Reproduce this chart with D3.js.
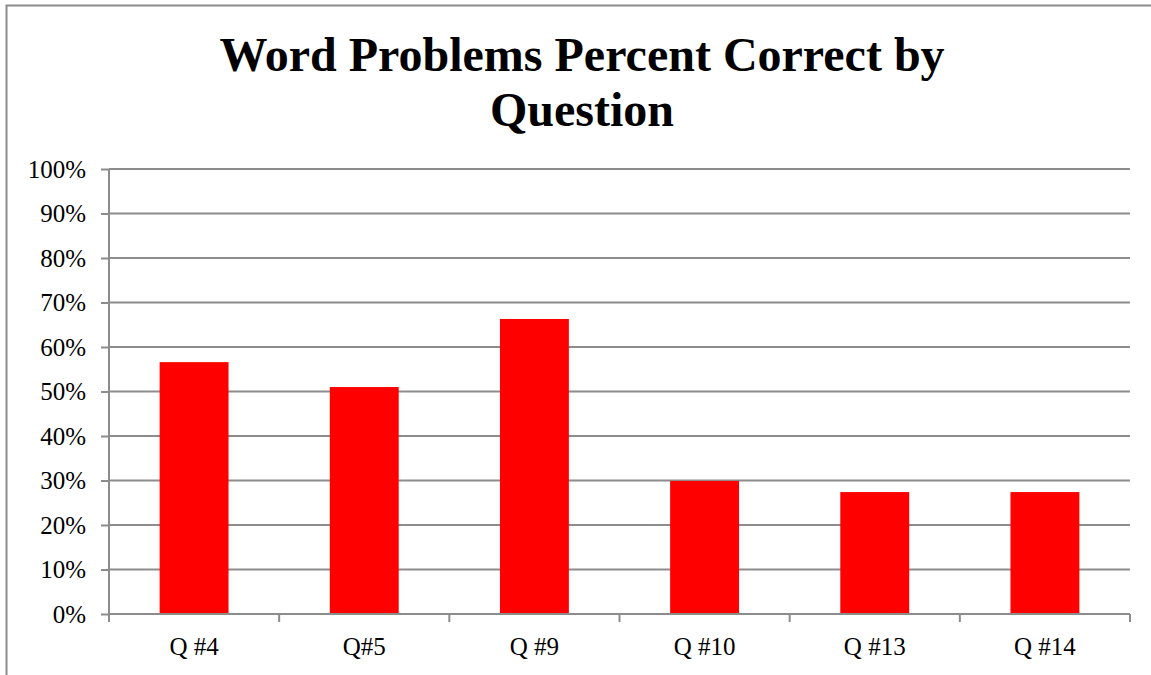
<!DOCTYPE html>
<html>
<head>
<meta charset="utf-8">
<script src="https://cdn.jsdelivr.net/npm/d3@7"></script>
<style>
  body { margin: 0; background: #fff; }
  svg { display: block; font-family: "Liberation Serif", "Times New Roman", serif; }
  .axis path, .axis line { stroke: #8c8c8c; stroke-width: 2; }
  .axis text { fill: #000; font-size: 25px; font-family: "Liberation Serif", "Times New Roman", serif; }
</style>
</head>
<body>
<svg id="chart" width="1151" height="675"></svg>
<script>
var categories = ["Q #4", "Q#5", "Q #9", "Q #10", "Q #13", "Q #14"];
var percentCorrect = [0.566, 0.510, 0.663, 0.299, 0.274, 0.274];
var yTicks = [0, 0.1, 0.2, 0.3, 0.4, 0.5, 0.6, 0.7, 0.8, 0.9, 1];
var titleLines = ["Word Problems Percent Correct by", "Question"];

var svg = d3.select("#chart");

var plotLeft = 109, plotRight = 1130, plotTop = 169, plotBottom = 614;

// chart frame
svg.append("rect")
  .attr("x", 6.5).attr("y", 5.5)
  .attr("width", 1160).attr("height", 700)
  .attr("fill", "none")
  .attr("stroke", "#8c8c8c")
  .attr("stroke-width", 2);

svg.append("text")
  .attr("text-anchor", "middle")
  .attr("font-weight", "bold")
  .attr("font-size", "48px")
  .selectAll("tspan")
  .data(titleLines)
  .enter()
  .append("tspan")
  .attr("x", 582)
  .attr("y", function (d, i) { return 71 + i * 55; })
  .text(function (d) { return d; });

var x = d3.scaleBand()
  .domain(categories)
  .range([plotLeft, plotRight])
  .paddingInner(0.595)
  .paddingOuter(0.2975);

var y = d3.scaleLinear()
  .domain([0, 1])
  .range([plotBottom, plotTop]);

// gridlines
svg.append("g")
  .selectAll("line")
  .data(yTicks.slice(1))
  .enter()
  .append("line")
  .attr("x1", plotLeft).attr("x2", plotRight)
  .attr("y1", function (d) { return y(d); })
  .attr("y2", function (d) { return y(d); })
  .attr("stroke", "#8c8c8c")
  .attr("stroke-width", 2);

svg.append("g")
  .selectAll("rect")
  .data(percentCorrect)
  .enter()
  .append("rect")
  .attr("x", function (d, i) { return x(categories[i]); })
  .attr("y", function (d) { return y(d); })
  .attr("width", x.bandwidth())
  .attr("height", function (d) { return plotBottom - y(d); })
  .attr("fill", "#ff0000");

var yAxis = d3.axisLeft(y)
  .tickValues(yTicks)
  .tickFormat(d3.format(".0%"))
  .tickSize(8)
  .tickPadding(15);

svg.append("g")
  .attr("class", "axis")
  .attr("transform", "translate(" + plotLeft + ",0)")
  .call(yAxis)
  .call(function (g) { g.select(".domain").attr("d", "M0," + plotTop + "V" + plotBottom); });

// category axis with boundary ticks
var xAxis = svg.append("g")
  .attr("class", "axis")
  .attr("transform", "translate(0," + plotBottom + ")");

xAxis.append("line")
  .attr("x1", plotLeft).attr("x2", plotRight)
  .attr("y1", 0).attr("y2", 0);

var step = x.step();
xAxis.selectAll(".tick")
  .data(d3.range(categories.length + 1))
  .enter()
  .append("line")
  .attr("x1", function (i) { return plotLeft + i * step; })
  .attr("x2", function (i) { return plotLeft + i * step; })
  .attr("y1", 0).attr("y2", 8);

xAxis.selectAll("text")
  .data(categories)
  .enter()
  .append("text")
  .attr("x", function (d) { return x(d) + x.bandwidth() / 2; })
  .attr("y", 41)
  .attr("text-anchor", "middle")
  .text(function (d) { return d; });
</script>
</body>
</html>
